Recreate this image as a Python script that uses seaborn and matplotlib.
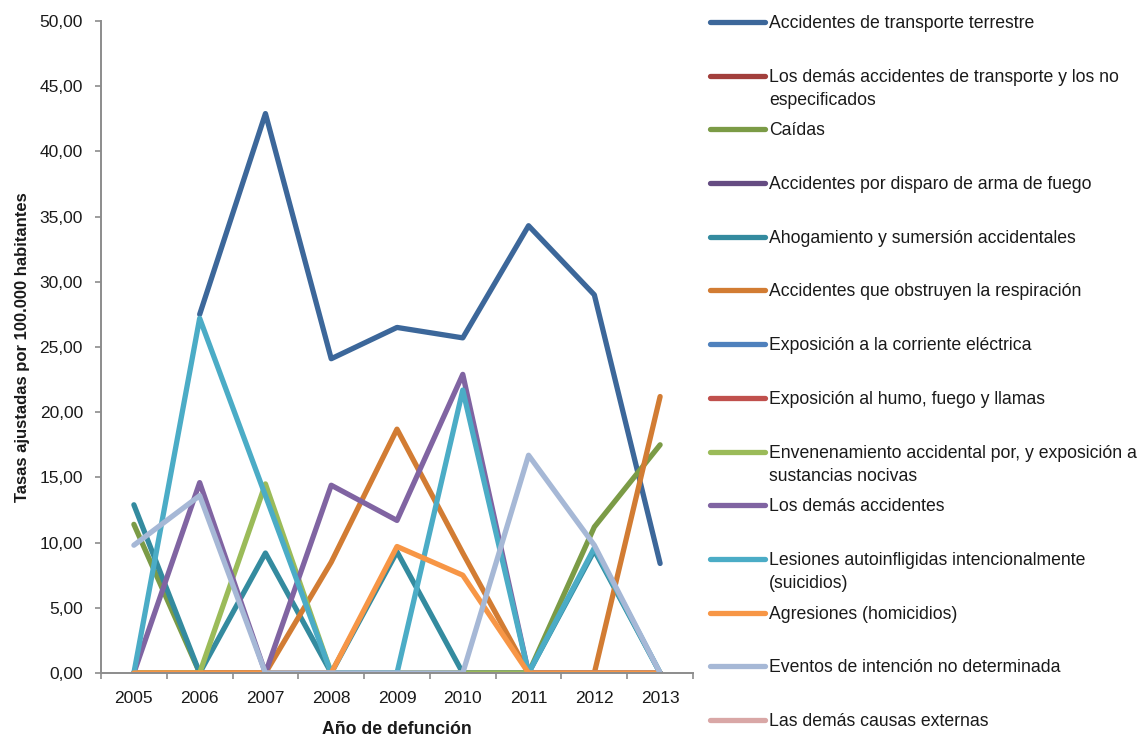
import numpy as np
import pandas as pd
import matplotlib
matplotlib.use("Agg")
import matplotlib.pyplot as plt
from matplotlib.lines import Line2D
from matplotlib.ticker import FixedLocator, FuncFormatter
import seaborn as sns

# Tasas ajustadas por 100.000 habitantes, 2005-2013
years = ["2005", "2006", "2007", "2008", "2009", "2010", "2011", "2012", "2013"]

transporte_terrestre = [None, 27.5, 42.9, 24.1, 26.5, 25.7, 34.3, 29.0, 8.4]
demas_transporte = [0.0, 0.0, 0.0, 0.0, 0.0, 0.0, 0.0, 0.0, 0.0]
caidas = [11.4, 0.0, 0.0, 0.0, 0.0, 0.0, 0.0, 11.2, 17.5]
disparo_arma = [0.0, 0.0, 0.0, 0.0, 0.0, 0.0, 0.0, 0.0, 0.0]
ahogamiento = [12.9, 0.0, 9.2, 0.0, 9.3, 0.0, 0.0, 9.4, 0.0]
obstruyen_resp = [0.0, 0.0, 0.0, 8.5, 18.7, 9.2, 0.0, 0.0, 21.2]
corriente_electrica = [0.0, 0.0, 0.0, 0.0, 0.0, 0.0, 0.0, 0.0, 0.0]
humo_fuego = [0.0, 0.0, 0.0, 0.0, 0.0, 0.0, 0.0, 0.0, 0.0]
envenenamiento = [0.0, 0.0, 14.5, 0.0, 0.0, 0.0, 0.0, 0.0, 0.0]
demas_accidentes = [0.0, 14.6, 0.0, 14.4, 11.7, 22.9, 0.0, 0.0, 0.0]
suicidios = [0.0, 27.2, 13.6, 0.0, 0.0, 21.7, 0.0, 9.6, 0.0]
homicidios = [0.0, 0.0, 0.0, 0.0, 9.7, 7.5, 0.0, 0.0, 0.0]
intencion_no_det = [9.8, 13.6, 0.0, 0.0, 0.0, 0.0, 16.7, 9.8, 0.0]
demas_causas = [None] * 9

labels = [
    "Accidentes de transporte terrestre",
    "Los demás accidentes de transporte y los no\nespecificados",
    "Caídas",
    "Accidentes por disparo de arma de fuego",
    "Ahogamiento y sumersión accidentales",
    "Accidentes que obstruyen la respiración",
    "Exposición a la corriente eléctrica",
    "Exposición al humo, fuego y llamas",
    "Envenenamiento accidental por, y exposición a\nsustancias nocivas",
    "Los demás accidentes",
    "Lesiones autoinfligidas intencionalmente\n(suicidios)",
    "Agresiones (homicidios)",
    "Eventos de intención no determinada",
    "Las demás causas externas",
]
series = [
    transporte_terrestre, demas_transporte, caidas, disparo_arma, ahogamiento,
    obstruyen_resp, corriente_electrica, humo_fuego, envenenamiento,
    demas_accidentes, suicidios, homicidios, intencion_no_det, demas_causas,
]
colors = [
    "#3C679A", "#A23F3C", "#7B9B46", "#654C82", "#348B9F", "#D27C33", "#4F81BD",
    "#C0504D", "#9BBB59", "#8064A2", "#4BACC6", "#F79646", "#A6B8D6", "#D9A7A6",
]

sns.set_theme(style="white")
plt.rcParams["font.family"] = ["Liberation Sans", "DejaVu Sans"]

W, H = 1140, 740
fig = plt.figure(figsize=(W / 100, H / 100), dpi=100)
ax = fig.add_axes([101 / W, 1 - 673 / H, (693 - 101) / W, (673 - 21) / H])

xpos = np.arange(len(years))
for name, vals, col in zip(labels, series, colors):
    df = pd.DataFrame({"x": xpos, "y": pd.to_numeric(pd.Series(vals), errors="coerce")}).dropna()
    if df.empty:
        continue
    sns.lineplot(data=df, x="x", y="y", color=col, lw=3.8, ax=ax, legend=False,
                 solid_capstyle="round", solid_joinstyle="round")

ax.set_xlim(-0.5, len(years) - 0.5)
ax.set_ylim(0, 50)
ax.set_yticks(np.arange(0, 50.1, 5))
ax.yaxis.set_major_formatter(FuncFormatter(lambda v, p: f"{v:.2f}".replace(".", ",")))
ax.xaxis.set_major_locator(FixedLocator(np.arange(-0.5, len(years), 1)))
ax.set_xticklabels([""] * len(ax.get_xticks()))
ax.set_xticks(xpos, minor=True)
ax.set_xticklabels(years, minor=True)

grey = "#8C8C8C"
for s in ["top", "right"]:
    ax.spines[s].set_visible(False)
for s in ["left", "bottom"]:
    ax.spines[s].set_color(grey)
    ax.spines[s].set_linewidth(1.4)
ax.tick_params(axis="both", which="major", direction="out", length=4.5, width=1.2,
               color=grey, labelsize=12.5, labelcolor="#1A1A1A")
ax.tick_params(axis="x", which="major", bottom=True)
ax.tick_params(axis="y", which="major", left=True, pad=8.5)
ax.tick_params(axis="x", which="minor", length=0, labelsize=12.5, labelcolor="#1A1A1A", pad=13)
ax.grid(False)

ax.set_xlabel("Año de defunción", fontsize=12.7, fontweight="bold", labelpad=11,
              color="#1A1A1A")
ax.set_ylabel("Tasas ajustadas por 100.000 habitantes", fontsize=12, fontweight="bold",
              labelpad=7, color="#1A1A1A")

# Legend drawn as a column on the right
y0, step = 22, 53.7
for i, (name, col) in enumerate(zip(labels, colors)):
    yc = 1 - (y0 + step * i) / H
    fig.add_artist(Line2D([710 / W, 765 / W], [yc, yc], color=col, lw=3.8,
                          solid_capstyle="round", transform=fig.transFigure))
    fig.text(769 / W, yc + 7 / H, name, fontsize=12.7, color="#1A1A1A",
             va="top", ha="left", linespacing=1.5)

fig.savefig("out.png", dpi=100)
